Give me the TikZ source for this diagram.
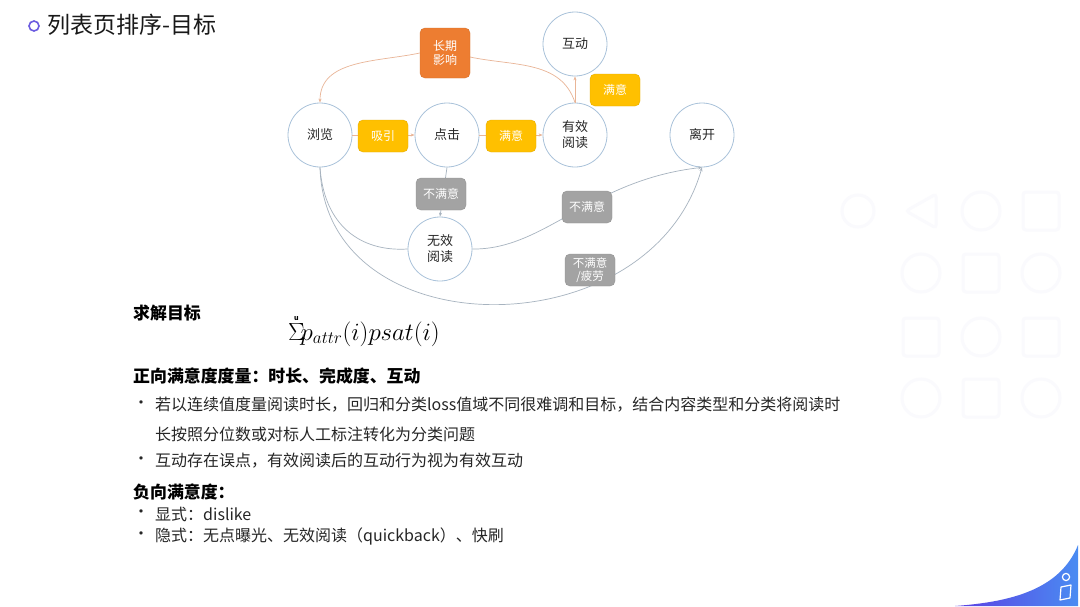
\documentclass[tikz,border=0pt]{standalone}
\usepackage{amsmath}
\usepackage{fontspec}
\setmainfont{Noto Sans CJK SC}
\usetikzlibrary{arrows.meta,shapes.geometric}
\definecolor{ringblue}{HTML}{A9C2DA}
\definecolor{flowor}{HTML}{E9B597}
\definecolor{flowgr}{HTML}{A7B3BF}
\definecolor{boxyel}{HTML}{FFC000}
\definecolor{boxor}{HTML}{ED7D31}
\definecolor{boxgr}{HTML}{A3A3A3}
\definecolor{wmark}{HTML}{FAFAFD}
\definecolor{wavel}{HTML}{5B3FE3}
\definecolor{waver}{HTML}{4A8CF2}
\definecolor{titlering}{HTML}{6B5BE0}
\begin{document}
\begin{tikzpicture}[x=1pt,y=-1pt,
  state/.style={circle,draw=ringblue,line width=0.8pt,fill=white,minimum size=64pt,inner sep=0pt,
    align=center,font=\fontsize{13}{16}\selectfont,text=black!85},
  tag/.style={rounded corners=5pt,minimum width=50pt,minimum height=32pt,inner sep=0pt,align=center,
    text=white,font=\fontsize{12}{14}\selectfont},
  yel/.style={tag,fill=boxyel,draw=boxyel!90!black,line width=0.4pt},
  org/.style={tag,fill=boxor,draw=boxor!90!black,line width=0.4pt,minimum height=50pt},
  gry/.style={tag,fill=boxgr,draw=boxgr!90!black,line width=0.4pt},
  edge/.style={line width=0.7pt,-{Stealth[length=4pt,width=3pt]}},
  plain/.style={line width=0.7pt},
  wm/.style={draw=wmark,line width=3pt},
  txt/.style={anchor=west,inner sep=0pt,font=\fontsize{16}{19}\selectfont,text=black!85},
  head/.style={anchor=west,inner sep=0pt,font=\fontsize{16.9}{20}\selectfont\bfseries,text=black}
]
\useasboundingbox (0,0) rectangle (1080,606);
\fill[white] (0,0) rectangle (1080,606);

% faint icon grid on the right
\foreach \cx/\cy/\s in {921/211/t,981/211/c,1041/211/s,
                        921/273/c,981/273/s,1041/273/c,
                        921/337/s,981/337/c,1041/337/s,
                        921/398/c,981/398/s,1041/398/c}{
  \if\s c\draw[wm] (\cx,\cy) circle (19);\fi
  \if\s s\draw[wm,rounded corners=3pt] (\cx-18,\cy-19) rectangle (\cx+18,\cy+19);\fi
  \if\s t\draw[wm,rounded corners=3pt] (\cx+15,\cy-17) -- (\cx-15,\cy) -- (\cx+15,\cy+17) -- cycle;\fi
}
\draw[wm] (858,211) circle (16);

% title
\draw[titlering,line width=1.6pt] (34,26) circle (5);
\node[anchor=west,inner sep=0pt,font=\fontsize{23}{26}\selectfont,text=black!90] (title) at (47,25) {列表页排序-目标};

% states
\node[state] (ll) at (320,135) {浏览};
\node[state] (dj) at (447,135) {点击};
\node[state] (yx) at (575,135) {有效\\阅读};
\node[state] (hd) at (575,44) {互动};
\node[state] (lk) at (702,135) {离开};

% connectors under the labels
\draw[plain,draw=flowor] (yx.north) to[out=108,in=-12] (470,57);
\draw[edge,draw=flowor] (ll) -- (dj);
\draw[edge,draw=flowor] (dj) -- (yx);
\draw[edge,draw=flowor] (yx) -- (hd);
\draw[edge,draw=flowgr] (ll.south) .. controls (325,350) and (650,350) .. (lk.south);

\node[state] (wx) at (440,249) {无效\\阅读};
\draw[plain,draw=flowgr] (ll.south) .. controls (324,225) and (360,252) .. (wx.west);
\draw[edge,draw=flowgr] (wx.east) .. controls (545,250) and (590,180) .. (lk.south);
\draw[edge,draw=flowgr] (dj.south) -- (wx.north);

% labels on the connectors
\node[org] (cq) at (445,53) {长期\\影响};
\draw[edge,draw=flowor] (cq.west) to[out=192,in=90] (ll.north);
\node[yel] (xy) at (383,136) {吸引};
\node[yel] (my1) at (511,136) {满意};
\node[yel] (my2) at (615,90) {满意};
\node[gry] (bm1) at (441,194) {不满意};
\node[gry] (bm2) at (587,207) {不满意};
\node[gry,font=\fontsize{11.5}{13}\selectfont] (bm3) at (590,270) {不满意\\/疲劳};

% objective
\node[head] (goal) at (133,313) {求解目标};
\node[anchor=west,inner sep=0pt,font=\fontsize{24}{28}\selectfont] (formula) at (288,330)
  {$\overset{\raisebox{-3pt}{\scriptsize\bfseries u}}{\Sigma}\!p_{attr}(i)psat(i)$};

% positive satisfaction
\node[head] (pos) at (133,376) {正向满意度度量：时长、完成度、互动};
\node[txt] (b1) at (133,405) {•};
\node[txt] (p1) at (155,405) {若以连续值度量阅读时长，回归和分类loss值域不同很难调和目标，结合内容类型和分类将阅读时};
\node[txt] (p1b) at (155,434) {长按照分位数或对标人工标注转化为分类问题};
\node[txt] (b2) at (133,461) {•};
\node[txt] (p2) at (155,461) {互动存在误点，有效阅读后的互动行为视为有效互动};

% negative satisfaction
\node[head] (neg) at (133,492) {负向满意度：};
\node[txt] (b3) at (133,514) {•};
\node[txt] (n1) at (155,514) {显式：dislike};
\node[txt] (b4) at (133,536) {•};
\node[txt] (n2) at (155,536) {隐式：无点曝光、无效阅读（quickback）、快刷};

% corner wave with logo
\shade[left color=wavel,right color=waver]
  (955,606) .. controls (1010,602) and (1060,590) .. (1078,545) -- (1078,606) -- cycle;
\draw[white,line width=1.2pt] (1066,577) circle (3.6);
\draw[white,line width=1.2pt,line join=round] (1061,587) -- (1071,585) -- (1070,598) -- (1060,600) -- cycle;
\end{tikzpicture}
\end{document}
